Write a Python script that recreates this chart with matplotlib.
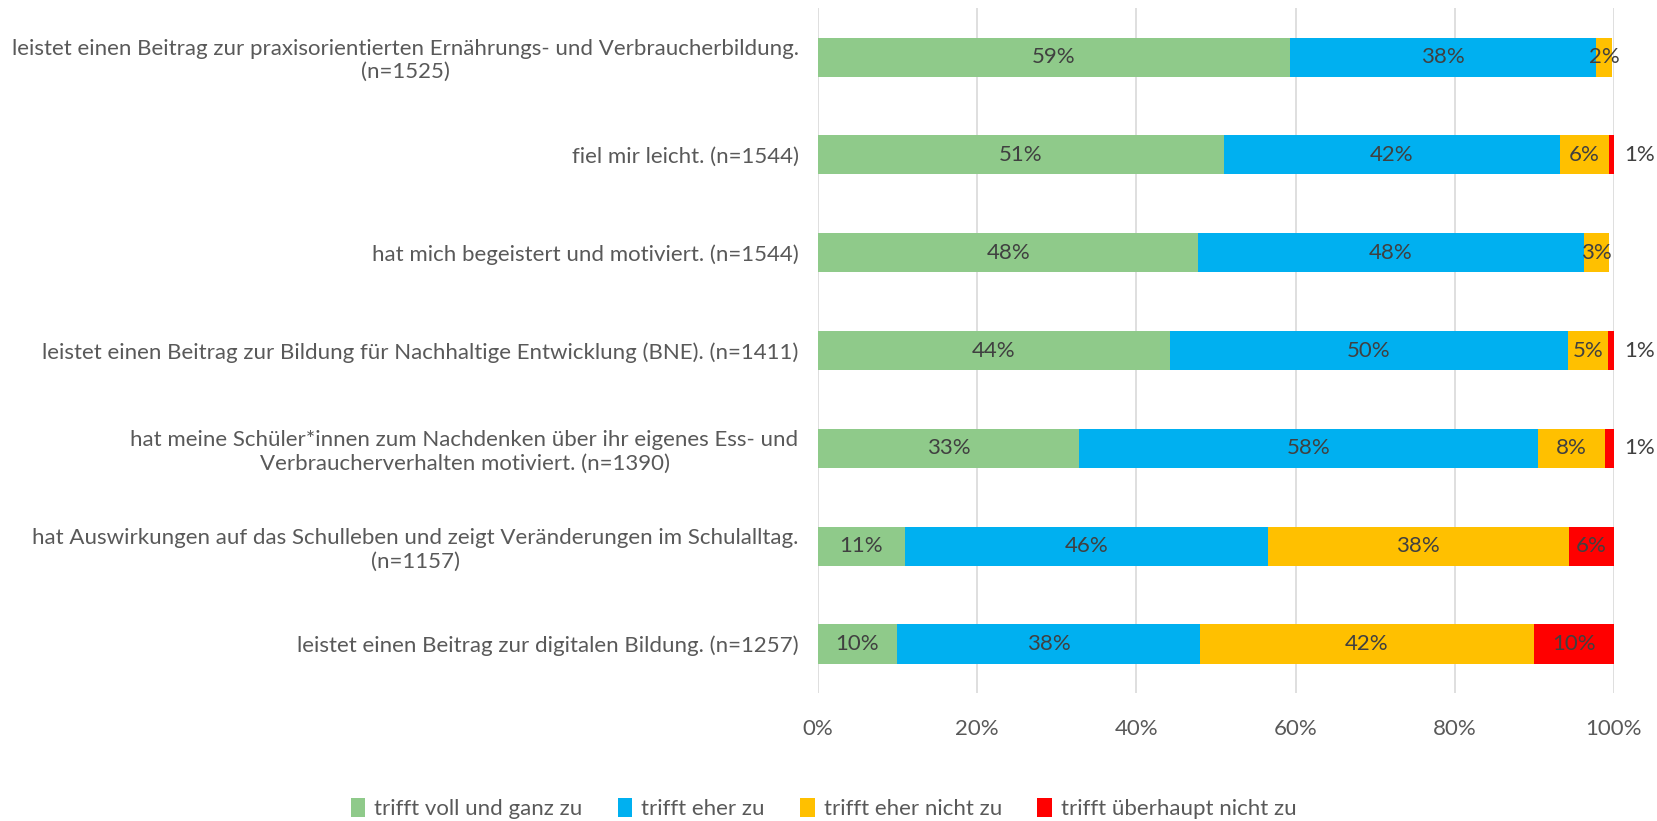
import matplotlib.pyplot as plt
from matplotlib.ticker import PercentFormatter

plt.rcParams['font.family'] = ['Lato', 'DejaVu Sans']

# Aussagen (von oben nach unten)
kategorien = [
    "leistet einen Beitrag zur praxisorientierten Ernährungs- und Verbraucherbildung.\n(n=1525)",
    "fiel mir leicht. (n=1544)",
    "hat mich begeistert und motiviert. (n=1544)",
    "leistet einen Beitrag zur Bildung für Nachhaltige Entwicklung (BNE). (n=1411)",
    "hat meine Schüler*innen zum Nachdenken über ihr eigenes Ess- und\nVerbraucherverhalten motiviert. (n=1390)",
    "hat Auswirkungen auf das Schulleben und zeigt Veränderungen im Schulalltag.\n(n=1157)",
    "leistet einen Beitrag zur digitalen Bildung. (n=1257)",
]

voll = [59.3, 51.0, 47.8, 44.2, 32.8, 10.9, 9.9]
eher = [38.4, 42.2, 48.4, 50.0, 57.7, 45.6, 38.1]
eher_nicht = [2.1, 6.2, 3.2, 5.1, 8.4, 37.8, 41.9]
gar_nicht = [0.0, 0.6, 0.0, 0.7, 1.1, 5.8, 10.1]

serien = ["trifft voll und ganz zu", "trifft eher zu", "trifft eher nicht zu", "trifft überhaupt nicht zu"]
farben = ["#8fca8a", "#00b0f0", "#ffc000", "#ff0000"]

fs = 16

fig = plt.figure(figsize=(16.57, 8.21), dpi=100)
ax = fig.add_axes([0.4937, 0.156, 0.4803, 0.834])

y = list(range(len(kategorien)))
links = [0.0] * len(kategorien)
for name, werte, farbe in zip(serien, [voll, eher, eher_nicht, gar_nicht], farben):
    ax.barh(y, werte, left=links, height=0.4, color=farbe, label=name, zorder=2)
    for i, v in enumerate(werte):
        if v <= 0:
            continue
        if v < 1.5:
            ax.text(101.3, i, f"{round(v)}%", ha="left", va="center",
                    fontsize=fs, color="#404040", clip_on=False)
        else:
            ax.text(links[i] + v / 2, i, f"{round(v)}%", ha="center", va="center",
                    fontsize=fs, color="#404040", zorder=3)
    links = [l + v for l, v in zip(links, werte)]

ax.set_xlim(0, 100)
ax.set_ylim(len(kategorien) - 0.5, -0.5)
ax.set_xticks([0, 20, 40, 60, 80, 100])
ax.xaxis.set_major_formatter(PercentFormatter(decimals=0))
ax.set_yticks(y)
ax.set_yticklabels(kategorien, multialignment="center")
ax.tick_params(axis="y", length=0, pad=14, labelsize=fs, labelcolor="#595959")
ax.tick_params(axis="x", length=0, pad=19, labelsize=fs, labelcolor="#595959")
ax.grid(axis="x", color="#d9d9d9", linewidth=1.2, zorder=0)
for s in ax.spines.values():
    s.set_visible(False)

fig.legend(loc="lower center", bbox_to_anchor=(0.497, -0.022), ncol=4, frameon=False,
           fontsize=fs, labelcolor="#595959", handlelength=0.65, handleheight=0.9,
           handletextpad=0.4, columnspacing=1.6)

fig.savefig("out.png", dpi=100)
